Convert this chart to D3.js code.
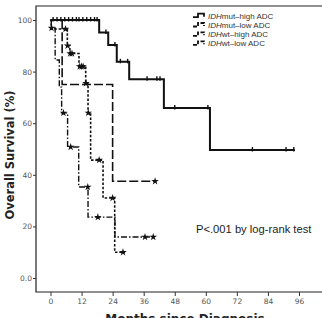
<!DOCTYPE html>
<html>
<head>
<meta charset="utf-8">
<script src="https://cdn.jsdelivr.net/npm/d3@7"></script>
<style>
  body { margin: 0; background: #fff; }
  svg { display: block; font-family: "Liberation Sans", Arial, sans-serif; }
</style>
</head>
<body>
<div id="chart"></div>
<script>
// step points [month, survival %] for each group
const mutHigh = [[0,100],[18.8,95.2],[22.3,90.3],[25.6,83.8],[30.4,77],[43.8,65.9],[61.6,49.6],[94.4,49.6]];
const mutLow  = [[0,100],[4.5,75],[24,37.5],[40.4,37.5]];
const wtHigh  = [[0,100],[0.3,96.5],[6.5,90],[7.5,87],[11,82],[13.6,75.5],[14.5,64],[15.5,45.7],[20.3,31],[24.8,10],[28.8,10]];
const wtLow   = [[0,100],[0.3,96.9],[1.8,84.5],[3.4,74],[4.3,64],[6.6,50.8],[10.9,35.3],[14.5,23.6],[24.9,15.9],[40,15.9]];

// censored observations
const mutHighCens = [[1,100],[2.5,100],[4,100],[5.5,100],[7,100],[8.5,100],[10,100],[11,100],[12.5,100],[14,100],[15.5,100],[17,100],[18,100],
  [21.4,95.2],[24.9,90.3],[27,83.8],[29.8,83.8],[37.3,77],[41.1,77],[42.3,77],[48,65.9],[60.8,65.9],[78,49.6],[91,49.6],[94,49.6]];
const mutLowCens  = [[40.4,37.5]];
const wtHighCens  = [[5.8,96.5],[6.6,90],[7.6,87],[8.3,87],[11.3,82],[12,82],[12.6,82],[13.7,75.5],[14.6,64],[18.8,45.7],[24,31],[28,10]];
const wtLowCens   = [[0.4,96.9],[5,64],[7.8,50.8],[14.4,35.3],[18.3,23.6],[36.5,15.9],[39.7,15.9]];

const xTicks = [0,12,24,36,48,60,72,84,96];
const yTicks = [0,20,40,60,80,100];
const legendLabels = ["mut\u2013high ADC","mut\u2013low ADC","wt\u2013high ADC","wt\u2013low ADC"];

const W = 322, H = 318;
const svg = d3.select("#chart").append("svg").attr("width", W).attr("height", H);

const x = d3.scaleLinear().domain([0,96]).range([50.5,299]);
const y = d3.scaleLinear().domain([0,100]).range([278,20]);

// frame
const fL = 36, fT = 6, fB = 292, fR = 330;
svg.append("path")
  .attr("d", `M${fR},${fT}H${fL}V${fB}H${fR}`)
  .attr("fill","none").attr("stroke","#222").attr("stroke-width",1.2);

// axes
const yAxis = svg.append("g").attr("transform", `translate(${fL},0)`)
  .call(d3.axisLeft(y).tickValues(yTicks).tickSize(3).tickFormat(d => d === 0 ? "0.0" : d));
const xAxis = svg.append("g").attr("transform", `translate(0,${fB})`)
  .call(d3.axisBottom(x).tickValues(xTicks).tickSize(4));
[yAxis, xAxis].forEach(a => {
  a.select(".domain").remove();
  a.selectAll("line").attr("stroke","#333");
  a.selectAll("text").attr("fill","#555").style("font-size","7.5px")
    .style("font-family","'DejaVu Sans', sans-serif");
});
yAxis.selectAll("text").attr("x",-4);

svg.append("text")
  .attr("transform","translate(14,155) rotate(-90)")
  .attr("text-anchor","middle").style("font-size","11.5px").style("font-weight","bold")
  .attr("fill","#222").style("font-family","'DejaVu Sans', sans-serif")
  .text("Overall Survival (%)");

svg.append("text")
  .attr("x",185).attr("y",323).attr("text-anchor","middle")
  .style("font-size","12px").style("font-weight","bold").attr("fill","#222")
  .style("font-family","'DejaVu Sans', sans-serif")
  .text("Months since Diagnosis");

svg.append("text")
  .attr("x",196).attr("y",233).style("font-size","11.2px").attr("fill","#222")
  .text("P<.001 by log-rank test");

// curves
const line = d3.line().x(d => x(d[0])).y(d => y(d[1])).curve(d3.curveStepAfter);
const groups = [
  { pts: mutHigh, cens: mutHighCens, dash: null, w: 2, mark: "tick" },
  { pts: mutLow,  cens: mutLowCens,  dash: "9,3", w: 1.6, mark: "star" },
  { pts: wtHigh,  cens: wtHighCens,  dash: "2.5,1.8", w: 1.6, mark: "star" },
  { pts: wtLow,   cens: wtLowCens,   dash: "6,2,1.5,2", w: 1.4, mark: "star" }
];
const star = d3.symbol().type(d3.symbolStar).size(18);
groups.forEach(g => {
  svg.append("path").attr("d", line(g.pts)).attr("fill","none")
    .attr("stroke","#111").attr("stroke-width", g.w)
    .attr("stroke-dasharray", g.dash);
  g.cens.forEach(c => {
    if (g.mark === "tick") {
      svg.append("path").attr("d", `M${x(c[0])},${y(c[1])-3}V${y(c[1])+1.5}`)
        .attr("stroke","#111").attr("stroke-width",1.4);
    } else {
      svg.append("path").attr("d", star())
        .attr("transform", `translate(${x(c[0])},${y(c[1])})`).attr("fill","#111");
    }
  });
});

// legend
const lg = svg.append("g");
[15.7,25,34.3,43.3].forEach((ly, i) => {
  const g = groups[i];
  lg.append("path").attr("d", `M193,${ly+1.5}H198V${ly-2}H204V${ly+1}`)
    .attr("fill","none").attr("stroke","#111").attr("stroke-width", 1.8)
    .attr("stroke-dasharray", g.dash ? "4,1.5" : null);
  const t = lg.append("text").attr("x",208).attr("y",ly+2.8)
    .style("font-size","8px").attr("fill","#333")
    .style("font-family","'Liberation Sans', sans-serif");
  t.append("tspan").style("font-style","italic").text("IDH");
  t.append("tspan").text(legendLabels[i]);
});
</script>
</body>
</html>
